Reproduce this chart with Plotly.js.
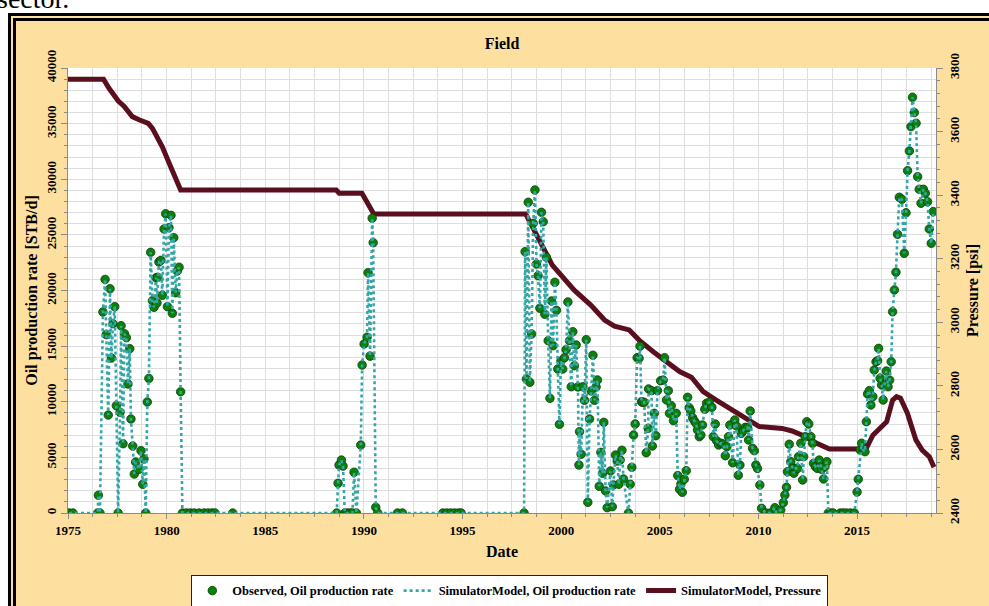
<!DOCTYPE html>
<html>
<head>
<meta charset="utf-8">
<script src="https://cdn.plot.ly/plotly-3.0.1.min.js"></script>
<style>
  html, body { margin: 0; padding: 0; background: #ffffff; width: 989px; height: 606px; overflow: hidden; position: relative; }
  #doctext { position: absolute; left: -3px; top: -15px; font-family: "Liberation Serif", "Times New Roman", serif; font-size: 28px; line-height: 28px; color: #000; white-space: nowrap; }
  #frame { position: absolute; left: 8px; top: 13px; width: 1000px; height: 620px; border: 8px double #000; background: #fde0a0; }
  #chart { position: absolute; left: 16px; top: 21px; width: 973px; height: 585px; }
</style>
</head>
<body>
<div id="doctext">sector.</div>
<div id="frame"></div>
<div id="chart"></div>
<script>
// ---- Observed oil production rate [STB/d] (decimal year) ----
const obsYears = [
  1975.05, 1975.25,
  1976.50, 1976.54, 1976.62, 1976.77, 1976.88, 1976.94, 1977.04, 1977.13, 1977.20, 1977.28, 1977.37, 1977.45, 1977.54,
  1977.64, 1977.69, 1977.79, 1977.86, 1977.96, 1978.04, 1978.13, 1978.19, 1978.28, 1978.36, 1978.43, 1978.60,
  1978.70, 1978.79, 1978.85, 1978.94, 1979.02, 1979.10, 1979.19, 1979.28, 1979.36, 1979.46, 1979.51, 1979.55,
  1979.61, 1979.71, 1979.78, 1979.87, 1979.95, 1980.04, 1980.12, 1980.22, 1980.29, 1980.36, 1980.46, 1980.54,
  1980.63, 1980.71, 1980.80, 1981.00, 1981.20, 1981.40, 1981.65, 1981.90, 1982.10, 1982.30, 1982.45, 1983.35,
  1988.62, 1988.69, 1988.74, 1988.86, 1988.94, 1989.03, 1989.15, 1989.30, 1989.42, 1989.50, 1989.62, 1989.84, 1989.91,
  1990.01, 1990.16, 1990.21, 1990.31, 1990.42, 1990.47, 1990.60, 1990.70, 1991.70, 1991.95,
  1994.00, 1994.20, 1994.40, 1994.60, 1994.80, 1994.93,
  1998.12, 1998.17, 1998.24, 1998.33, 1998.41, 1998.50, 1998.58, 1998.67, 1998.75, 1998.83, 1998.92, 1999.00,
  1999.09, 1999.17, 1999.25, 1999.34, 1999.43, 1999.51, 1999.59, 1999.68, 1999.76, 1999.83, 1999.91, 1999.99,
  2000.08, 2000.17, 2000.25, 2000.34, 2000.42, 2000.51, 2000.59, 2000.67, 2000.76, 2000.85, 2000.90, 2000.93,
  2001.01, 2001.10, 2001.18, 2001.27, 2001.35, 2001.44, 2001.52, 2001.61, 2001.69, 2001.77, 2001.84, 2001.93,
  2002.01, 2002.10, 2002.16, 2002.25, 2002.33, 2002.50, 2002.59, 2002.65, 2002.75, 2002.84, 2002.92, 2002.99,
  2003.08, 2003.16, 2003.41, 2003.50, 2003.58, 2003.67, 2003.75, 2003.85, 2003.95, 2004.00, 2004.07, 2004.12,
  2004.21, 2004.31, 2004.41, 2004.43, 2004.58, 2004.62, 2004.72, 2004.80, 2004.88, 2005.04, 2005.17, 2005.24,
  2005.34, 2005.43, 2005.49, 2005.58, 2005.69, 2005.83, 2005.91, 2006.00, 2006.07, 2006.14, 2006.24, 2006.34,
  2006.41, 2006.49, 2006.57, 2006.66, 2006.74, 2006.83, 2006.91, 2007.00, 2007.08, 2007.16, 2007.28, 2007.37,
  2007.50, 2007.64, 2007.71, 2007.81, 2007.88, 2007.98, 2008.10, 2008.22, 2008.32, 2008.40, 2008.48, 2008.55,
  2008.69, 2008.80, 2008.89, 2008.98, 2009.06, 2009.13, 2009.23, 2009.33, 2009.45, 2009.50, 2009.58, 2009.70,
  2009.79, 2009.87, 2009.95, 2010.07, 2010.16, 2010.37, 2010.60, 2010.83, 2010.92, 2011.13, 2011.26, 2011.34,
  2011.42, 2011.47, 2011.56, 2011.64, 2011.73, 2011.80, 2011.89, 2011.98, 2012.03, 2012.15, 2012.24, 2012.29,
  2012.37, 2012.45, 2012.55, 2012.66, 2012.74, 2012.79, 2012.89, 2012.99, 2013.08, 2013.20, 2013.30, 2013.37,
  2013.47, 2013.54, 2013.66, 2013.78, 2014.15, 2014.30, 2014.45, 2014.65, 2014.86, 2015.00, 2015.06, 2015.16,
  2015.23, 2015.31, 2015.40, 2015.47, 2015.53, 2015.62, 2015.70, 2015.80, 2015.87, 2015.96, 2016.04, 2016.09,
  2016.17, 2016.24, 2016.32, 2016.39, 2016.48, 2016.57, 2016.65, 2016.73, 2016.80, 2016.89, 2016.97, 2017.05,
  2017.14, 2017.27, 2017.39, 2017.48, 2017.56, 2017.65, 2017.73, 2017.81, 2017.90, 2017.99, 2018.07, 2018.15,
  2018.24, 2018.36, 2018.46, 2018.57, 2018.66, 2018.76, 2018.86
];
const obsRate = [
  0, 0,
  0, 1600, 0, 18070, 21000, 16030, 8800, 20160, 13930, 17020, 18550, 9650, 0,
  9050, 16840, 6230, 16120, 15760, 11600, 14770, 8450, 6020, 3500, 4580, 3930,
  5600, 2580, 4850, 0, 9980, 12100, 23430, 19080, 18490, 21150, 18880, 21190,
  22560, 22710, 19570, 25530, 26900, 18550, 25650, 26760, 17950, 24750, 19800, 21750,
  22090, 10900, 0, 0, 0, 0, 0, 0, 0, 0, 0, 0,
  0, 2670, 4310, 4760, 4220, 0, 0, 0, 0, 3660, 0, 6110, 13300,
  15200, 15800, 21600, 14100, 26500, 24300, 510, 0, 0, 0,
  0, 0, 0, 0, 0, 0,
  0, 23490, 12050, 27930, 11750, 16090, 26040, 29030, 22380, 21330, 18400, 27030,
  26190, 17860, 22990, 15490, 10310, 19060, 15040, 20740, 18220, 12940, 7970, 13660,
  12940, 13960, 14680, 18970, 15490, 11350, 16300, 13240, 15100, 11330, 4310, 7310,
  5280, 11350, 10130, 15580, 960, 8450, 10970, 14180, 10130, 11330, 11960, 2400,
  5450, 3570, 8150, 1980, 480, 3780, 570, 2520, 5210, 4670, 2580, 4760,
  5640, 3060, 0, 2580, 4110, 7010, 8000, 13960, 13900, 15000, 10000, 9950,
  9950, 5420, 7610, 11150, 11000, 6020, 8960, 6950, 11000, 11890, 11950, 13960,
  10160, 11000, 8960, 9650, 8300, 8960, 3360, 2130, 2610, 1860, 3030, 3800,
  10400, 9470, 9170, 8570, 8300, 8060, 7460, 6860, 7010, 7910, 9320, 9860,
  9950, 9500, 6860, 8000, 6500, 6110, 6270, 6200, 5150, 5960, 6860, 7910,
  4520, 8360, 7820, 3390, 4310, 7160, 7400, 7700, 7670, 6560, 9170, 5820,
  5600, 4310, 4010, 2520, 420, 0, 0, 480, 0, 270, 930, 1620,
  2310, 3710, 6180, 4610, 4010, 3570, 4010, 4010, 5060, 6270, 2970, 5060,
  6860, 8210, 8000, 6860, 6270, 4470, 4160, 4010, 4760, 3930, 3060, 4160,
  4610, 0, 0, 0, 0, 0, 0, 0, 0, 1890, 3030, 5660,
  6270, 5660, 5510, 8210, 10700, 11000, 9710, 10460, 12850, 13600, 13690, 14800,
  12110, 11510, 10160, 11510, 12760, 11350, 11950, 13600, 18090, 20050, 21640, 25050,
  28380, 28200, 23340, 26990, 30770, 32540, 34730, 37370, 35990, 35030, 30230, 29100,
  27840, 29100, 28740, 27980, 25530, 24240, 27090
];

// ---- SimulatorModel oil production rate (rate-controlled run: follows the observed rates) ----
const simYears = obsYears;
const simRate = obsRate;

// ---- SimulatorModel pressure [psi] ----
const presYears = [
  1975.00, 1976.80, 1977.08, 1977.55, 1977.84, 1978.26, 1978.60, 1979.07, 1979.28, 1979.78, 1980.20, 1980.71,
  1988.60, 1988.75, 1989.90, 1990.50, 1998.20, 1998.90, 1999.55, 2000.66, 2001.50, 2002.20, 2002.70, 2003.45,
  2003.95, 2004.70, 2005.55, 2006.00, 2006.60, 2007.20, 2007.84, 2008.52, 2009.10, 2010.04, 2011.20, 2011.70,
  2012.40, 2012.90, 2013.60, 2015.45, 2015.80, 2016.10, 2016.50, 2016.80, 2017.00, 2017.20, 2017.55, 2017.98,
  2018.30, 2018.66, 2018.90
];
const presVal = [
  3765, 3765, 3736, 3696, 3680, 3647, 3637, 3626, 3610, 3552, 3490, 3416,
  3416, 3406, 3406, 3341, 3341, 3259, 3180, 3101, 3054, 3007, 2988, 2976,
  2944, 2906, 2866, 2845, 2827, 2782, 2756, 2729, 2708, 2672, 2666, 2658,
  2640, 2621, 2601, 2601, 2645, 2661, 2687, 2755, 2766, 2761, 2714, 2630,
  2598, 2577, 2544
];

// ---- Text ----
const chartTitle = "Field";
const xTitle = "Date";
const yLeftTitle = "Oil production rate [STB/d]";
const yRightTitle = "Pressure [psi]";
const legendNames = ["Observed, Oil production rate", "SimulatorModel, Oil production rate", "SimulatorModel, Pressure"];

const serif = '"Liberation Serif", "Times New Roman", serif';
const axisGray = '#8a8a8a';
const gridGray = '#dedede';

const data = [
  {
    x: obsYears, y: obsRate, yaxis: 'y2', type: 'scatter', mode: 'markers',
    name: legendNames[0],
    marker: { color: '#0a820a', size: 8.5, line: { color: '#0f3a0f', width: 0.8 } }
  },
  {
    x: simYears, y: simRate, yaxis: 'y2', type: 'scatter', mode: 'lines',
    name: legendNames[1],
    line: { color: '#36a5a5', width: 2.6, dash: 'dot' }
  },
  {
    x: presYears, y: presVal, yaxis: 'y', type: 'scatter', mode: 'lines',
    name: legendNames[2],
    line: { color: '#5a0f1f', width: 5 }
  }
];

const layout = {
  width: 973, height: 585,
  paper_bgcolor: 'rgba(0,0,0,0)',
  plot_bgcolor: '#ffffff',
  margin: { l: 52, r: 53, t: 47, b: 93 },
  font: { family: serif, color: '#000', size: 13, weight: 'bold' },
  showlegend: true,
  title: { text: chartTitle, x: 0.5, xref: 'paper', xanchor: 'center', y: 0.961, yref: 'container', yanchor: 'middle',
           font: { family: serif, size: 16, weight: 'bold', color: '#000' } },
  xaxis: {
    range: [1975, 2019], tick0: 1975, dtick: 5, tickformat: 'd',
    showline: true, linecolor: axisGray, linewidth: 1, mirror: false,
    ticks: 'outside', ticklen: 5, tickcolor: axisGray,
    showgrid: true, gridcolor: gridGray, gridwidth: 1, zeroline: false,
    minor: { dtick: 1.25, tick0: 1975, showgrid: true, gridcolor: gridGray, gridwidth: 1, ticks: 'outside', ticklen: 3, tickcolor: axisGray },
    tickfont: { family: serif, size: 13, weight: 'bold', color: '#000' },
    title: { text: xTitle, standoff: 9, font: { family: serif, size: 16, weight: 'bold', color: '#000' } },
    automargin: false
  },
  yaxis: {
    side: 'right', range: [2400, 3800], tick0: 2400, dtick: 200, tickformat: 'd',
    showline: true, linecolor: axisGray, linewidth: 1,
    ticks: 'outside', ticklen: 6, tickcolor: axisGray, tickangle: -90,
    showgrid: false, zeroline: false,
    minor: { dtick: 40, ticks: 'outside', ticklen: 3, tickcolor: axisGray, showgrid: false },
    tickfont: { family: serif, size: 13, weight: 'bold', color: '#000' },
    title: { text: yRightTitle, standoff: 6, font: { family: serif, size: 16, weight: 'bold', color: '#000' } },
    automargin: false
  },
  yaxis2: {
    overlaying: 'y', side: 'left', range: [0, 40000], tick0: 0, dtick: 5000, tickformat: 'd',
    showline: true, linecolor: axisGray, linewidth: 1,
    ticks: 'outside', ticklen: 6, tickcolor: axisGray, tickangle: -90,
    showgrid: true, gridcolor: gridGray, gridwidth: 1, zeroline: false,
    minor: { dtick: 1000, ticks: 'outside', ticklen: 3, tickcolor: axisGray, showgrid: true, gridcolor: gridGray, gridwidth: 1 },
    tickfont: { family: serif, size: 13, weight: 'bold', color: '#000' },
    title: { text: yLeftTitle, standoff: 2, font: { family: serif, size: 16, weight: 'bold', color: '#000' } },
    automargin: false
  },
  legend: {
    orientation: 'h', x: 0.509, xanchor: 'center', xref: 'paper', y: 0.053, yanchor: 'top', yref: 'container',
    bgcolor: '#ffffff', bordercolor: '#222', borderwidth: 1,
    font: { family: serif, size: 12.5, weight: 'bold', color: '#000' },
    itemwidth: 30, traceorder: 'normal'
  }
};

Plotly.newPlot('chart', data, layout, { displayModeBar: false, staticPlot: true });
</script>
</body>
</html>
